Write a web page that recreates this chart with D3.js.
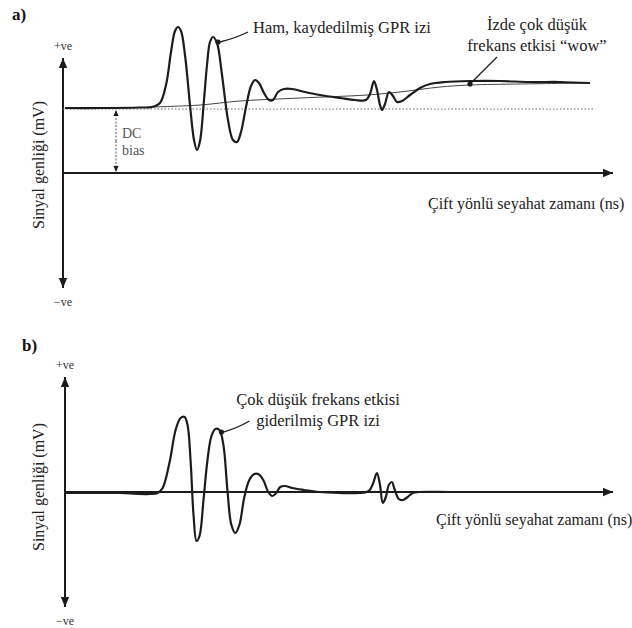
<!DOCTYPE html>
<html><head><meta charset="utf-8">
<script src="https://cdn.jsdelivr.net/npm/d3@7"></script>
<style>html,body{margin:0;padding:0;background:#fff}svg{display:block}</style>
</head><body>
<script>
// ---------- DATA ----------
// Panel a: raw recorded GPR trace (time, amplitude)
const timeA = [2,37,77,89,97,103,108,112,115,118,122,127,131,134,137,141,144,147,150,154,159,165,170,174,178,183,188,192,196,201,206,210,215,221,229,242,257,277,292,303,307,311,314,317,319,322,326,330,334,339,347,357,367,382,407,437,467,497,527];
const ampA  = [65,65,65.5,66,70,88,121,142,146,142,118,68,33,23,32,73,108,131,136,130,98,53,33,31,41,66,87,93,90,80,73,73,81,84,84,81,78,75,73,73,79,92,83,68,63,69,81,77,71,72,78,85,89,91,92,92,91,91,90];
// Panel a: low-frequency "wow" trend
const timeWow = [90,137,177,237,304,337,377,407,457,527];
const ampWow  = [66,68,72,75,78,81,86,88,89,90];
// DC bias level
const dcBias = 64;
const dcExtent = [0, 532];
const dcArrowTime = 53;
// Panel b: de-wowed trace
const timeB = [0,55,85,93,98,105,111,116,120,123,126,129,132,135,139,143,147,151,155,159,163,167,171,175,180,185,190,194,199,204,208,212,216,221,228,240,255,275,295,305,309,313,316,319,322,325,328,331,335,339,344,349,355,385,435,495,535];
const ampB  = [-1,-1,-2,-1,4,30,62,74,75,67,32,-23,-49,-44,-8,32,56,63,62,47,2,-33,-41,-33,-5,12,18,18,12,0,-4,-1,5,6,4,2,0,-1,-1,1,8,19,8,-11,-5,7,10,2,-7,-8,-5,-1,0,0,0,0,0];
// Text
const panelLabels = ["a)", "b)"];
const yAxisLabel = "Sinyal genliği (mV)";
const xAxisLabel = "Çift yönlü seyahat zamanı (ns)";
const posLabel = "+ve", negLabel = "\u2212ve";
const annA1 = ["Ham, kaydedilmiş GPR izi"];
const annA2 = ["İzde çok düşük", "frekans etkisi \u201cwow\u201d"];
const annB  = ["Çok düşük frekans etkisi", "giderilmiş GPR izi"];
const dcLabel = ["DC", "bias"];
// annotation anchor points on traces (time, amplitude)
const ptA1 = [155, 131], ptA2 = [407, 89], ptB = [157, 60];

// ---------- DRAW ----------
const W = 632, H = 628;
const INK = "#1c1c1c";
const FONT = "'Liberation Serif','Times New Roman',serif";
const svg = d3.select("body").append("svg").attr("width", W).attr("height", H)
  .style("font-family", FONT);

const defs = svg.append("defs");
function marker(id, size) {
  defs.append("marker").attr("id", id).attr("viewBox", "0 0 10 10")
    .attr("refX", 10).attr("refY", 5).attr("markerUnits", "userSpaceOnUse")
    .attr("markerWidth", size).attr("markerHeight", size).attr("orient", "auto-start-reverse")
    .append("path").attr("d", "M0,0.8 L10,5 L0,9.2 Z").attr("fill", INK);
}
marker("arr", 10);
marker("arrs", 6);

function panel(cfg) {
  const x = d3.scaleLinear().domain([0, 550]).range([cfg.x0, 613]);
  const y = d3.scaleLinear().domain([-115, 115]).range([cfg.yBot, cfg.yTop]);
  const g = svg.append("g");

  // axes
  g.append("line").attr("x1", x(0)).attr("x2", x(0)).attr("y1", y(0)).attr("y2", y(115))
    .attr("stroke", INK).attr("stroke-width", 2).attr("marker-end", "url(#arr)");
  g.append("line").attr("x1", x(0)).attr("x2", x(0)).attr("y1", y(0)).attr("y2", y(-115))
    .attr("stroke", INK).attr("stroke-width", 2).attr("marker-end", "url(#arr)");
  g.append("line").attr("x1", x(0)).attr("x2", x(550)).attr("y1", y(0)).attr("y2", y(0))
    .attr("stroke", INK).attr("stroke-width", 2).attr("marker-end", "url(#arr)");

  g.append("text").attr("x", x(0)).attr("y", y(115) - 8).attr("text-anchor", "middle")
    .attr("font-size", 12).attr("fill", "#333").text(posLabel);
  g.append("text").attr("x", x(0)).attr("y", y(-115) + 18).attr("text-anchor", "middle")
    .attr("font-size", 12).attr("fill", "#333").text(negLabel);

  g.append("text").attr("transform", `translate(${cfg.ylx},${cfg.yly}) rotate(-90)`)
    .attr("text-anchor", "middle").attr("dominant-baseline", "central")
    .attr("font-size", 16).attr("fill", "#222").text(yAxisLabel);
  g.append("text").attr("x", cfg.xlx).attr("y", cfg.xly).attr("font-size", 16)
    .attr("fill", "#222").text(xAxisLabel);

  g.append("text").attr("x", cfg.plx).attr("y", cfg.ply).attr("font-size", 17)
    .attr("font-weight", "bold").attr("fill", "#111").text(cfg.panelLabel);
  return {g, x, y};
}

const line = (x, y) => d3.line().x(d => x(d[0])).y(d => y(d[1])).curve(d3.curveCatmullRom.alpha(0.5));

// ----- Panel a -----
{
  const {g, x, y} = panel({x0: 63, yTop: 58, yBot: 288, ylx: 38, yly: 165, xlx: 428, xly: 209,
                           plx: 12, ply: 20, panelLabel: panelLabels[0]});
  // DC dotted line
  g.append("line").attr("x1", x(dcExtent[0])).attr("x2", x(dcExtent[1]))
    .attr("y1", y(dcBias)).attr("y2", y(dcBias))
    .attr("stroke", "#666").attr("stroke-width", 1.2).attr("stroke-dasharray", "1.5,2");
  // DC bias double arrow
  g.append("line").attr("x1", x(dcArrowTime)).attr("x2", x(dcArrowTime))
    .attr("y1", y(dcBias / 2)).attr("y2", y(dcBias) + 1)
    .attr("stroke", "#555").attr("stroke-width", 1).attr("stroke-dasharray", "2,1.5")
    .attr("marker-end", "url(#arrs)");
  g.append("line").attr("x1", x(dcArrowTime)).attr("x2", x(dcArrowTime))
    .attr("y1", y(dcBias / 2)).attr("y2", y(0) - 1)
    .attr("stroke", "#555").attr("stroke-width", 1).attr("stroke-dasharray", "2,1.5")
    .attr("marker-end", "url(#arrs)");
  g.selectAll("text.dc").data(dcLabel).join("text").attr("class", "dc")
    .attr("x", x(dcArrowTime) + 6).attr("y", (d, i) => 138 + i * 17)
    .attr("font-size", 14).attr("fill", "#555").text(d => d);

  // wow line
  g.append("path").datum(d3.zip(timeWow, ampWow)).attr("d", line(x, y))
    .attr("fill", "none").attr("stroke", "#444").attr("stroke-width", 1);
  // raw trace
  g.append("path").datum(d3.zip(timeA, ampA)).attr("d", line(x, y))
    .attr("fill", "none").attr("stroke", INK).attr("stroke-width", 2.2).attr("stroke-linejoin", "round");

  // annotation 1
  g.append("path").attr("d", `M${x(ptA1[0]) + 2},${y(ptA1[1])} Q${x(ptA1[0]) + 18},${y(ptA1[1]) - 4} ${x(ptA1[0]) + 30},${y(ptA1[1]) - 10}`)
    .attr("fill", "none").attr("stroke", INK).attr("stroke-width", 1.3);
  g.append("circle").attr("cx", x(ptA1[0])).attr("cy", y(ptA1[1])).attr("r", 2.6).attr("fill", INK);
  g.append("text").attr("x", 253).attr("y", 33).attr("font-size", 16.5).attr("fill", "#222").text(annA1[0]);

  // annotation 2
  g.append("line").attr("x1", x(ptA2[0])).attr("y1", y(ptA2[1])).attr("x2", x(ptA2[0]) + 27).attr("y2", y(ptA2[1]) - 27)
    .attr("stroke", INK).attr("stroke-width", 1.3);
  g.append("circle").attr("cx", x(ptA2[0])).attr("cy", y(ptA2[1])).attr("r", 2.6).attr("fill", INK);
  g.selectAll("text.a2").data(annA2).join("text").attr("class", "a2")
    .attr("x", 537).attr("y", (d, i) => 30 + i * 21).attr("text-anchor", "middle")
    .attr("font-size", 16.5).attr("fill", "#222").text(d => d);
}

// ----- Panel b -----
{
  const {g, x, y} = panel({x0: 65, yTop: 377, yBot: 607, ylx: 38, yly: 487, xlx: 436, xly: 525,
                           plx: 22, ply: 351, panelLabel: panelLabels[1]});
  g.append("path").datum(d3.zip(timeB, ampB)).attr("d", line(x, y))
    .attr("fill", "none").attr("stroke", INK).attr("stroke-width", 2.2).attr("stroke-linejoin", "round");

  g.append("path").attr("d", `M${x(ptB[0]) + 2},${y(ptB[1])} Q${x(ptB[0]) + 16},${y(ptB[1]) - 4} ${x(ptB[0]) + 28},${y(ptB[1]) - 11}`)
    .attr("fill", "none").attr("stroke", INK).attr("stroke-width", 1.3);
  g.append("circle").attr("cx", x(ptB[0])).attr("cy", y(ptB[1])).attr("r", 2.6).attr("fill", INK);
  g.selectAll("text.b").data(annB).join("text").attr("class", "b")
    .attr("x", 318).attr("y", (d, i) => 405 + i * 21).attr("text-anchor", "middle")
    .attr("font-size", 16.5).attr("fill", "#222").text(d => d);
}
</script>
</body></html>
